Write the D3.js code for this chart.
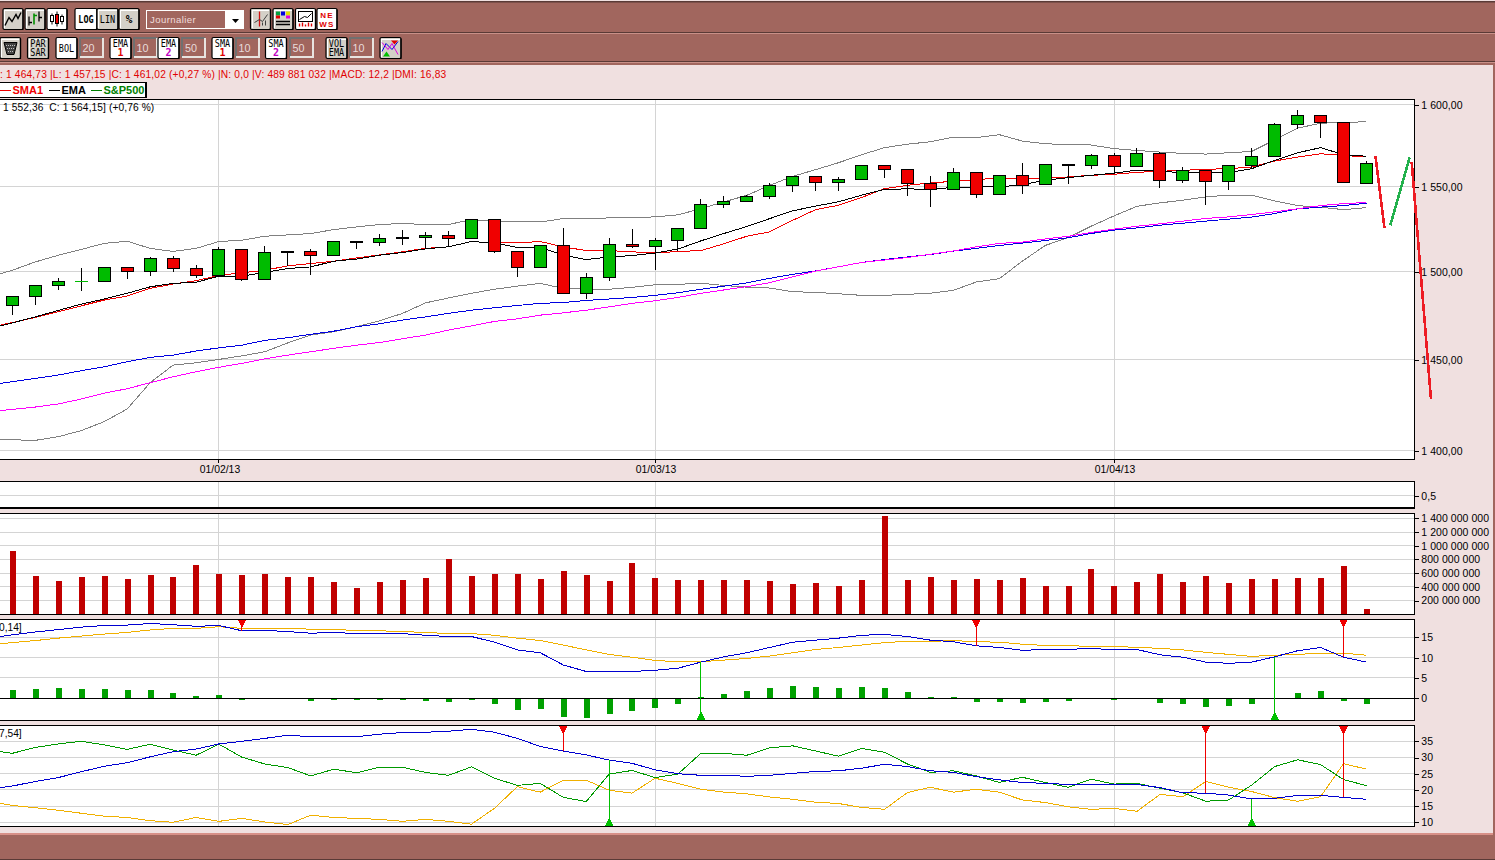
<!DOCTYPE html>
<html>
<head>
<meta charset="utf-8">
<title>S&amp;P500</title>
<script src="https://cdn.jsdelivr.net/npm/d3@7"></script>
<style>
  html, body { margin: 0; padding: 0; background: #f0e0e0; overflow: hidden; }
  svg { display: block; }
  text { font-family: "Liberation Sans", Arial, sans-serif; }
  .aliased { shape-rendering: crispEdges; }
  .axis text { font-size: 10.5px; fill: #000; letter-spacing: 0.05px; }
  .axis path { display: none; }
  .axis line { stroke: #000; shape-rendering: crispEdges; }
</style>
</head>
<body>
<svg id="chart" width="1495" height="860"></svg>
<script>
// session data, candle 0 is the first one on screen
const opens = [1480.7,1485.9,1492.2,1494.6,1494.6,1502.6,1500.0,1507.8,1502.0,1497.8,1513.1,1495.5,1511.9,1511.9,1509.3,1517.9,1516.9,1520.0,1519.8,1521.2,1519.2,1530.6,1511.9,1502.6,1515.4,1487.6,1496.9,1516.0,1514.8,1518.3,1525.3,1539.5,1541.3,1544.2,1550.8,1556.2,1552.6,1554.4,1562.8,1560.4,1552.0,1548.4,1558.6,1545.4,1556.8,1551.4,1563.6,1562.8,1568.8,1562.2,1570.0,1553.8,1559.8,1553.2,1562.8,1568.2,1587.7,1593.2,1588.9,1552.36];
const highs = [1485.9,1492.2,1496.6,1502.2,1503.1,1503.1,1508.9,1509.4,1504.3,1514.4,1513.1,1515.0,1512.3,1513.1,1518.3,1518.3,1522.4,1524.7,1523.0,1524.1,1530.6,1530.6,1511.9,1515.4,1525.9,1499.3,1520.0,1525.3,1520.0,1525.3,1543.1,1544.8,1545.4,1552.6,1556.4,1556.8,1556.2,1563.4,1563.4,1560.4,1556.8,1561.6,1558.6,1557.4,1564.6,1564.0,1564.0,1570.0,1570.6,1573.7,1571.2,1562.2,1559.8,1562.8,1573.7,1588.9,1596.9,1593.2,1588.9,1565.8];
const lows = [1475.2,1481.1,1489.5,1489.0,1494.6,1495.9,1497.8,1500.0,1496.6,1497.8,1494.9,1495.5,1503.5,1498.4,1509.3,1513.4,1515.2,1515.8,1513.7,1514.6,1519.2,1511.0,1497.2,1502.6,1487.6,1484.4,1494.7,1514.2,1501.0,1511.9,1525.3,1537.7,1541.3,1543.0,1547.0,1547.6,1547.6,1554.4,1555.4,1544.6,1538.1,1548.4,1543.4,1545.4,1545.8,1551.4,1551.8,1560.7,1558.0,1562.2,1549.4,1552.6,1539.5,1548.2,1561.0,1568.2,1585.2,1579.5,1552.5,1552.36];
const closes = [1485.9,1492.2,1494.6,1494.6,1502.6,1500.0,1507.8,1502.0,1497.8,1513.1,1495.5,1511.3,1511.0,1509.3,1517.7,1517.2,1519.5,1519.5,1521.2,1519.2,1530.6,1511.7,1502.6,1515.4,1487.6,1496.9,1516.0,1514.8,1518.3,1525.3,1539.5,1541.3,1544.2,1550.8,1556.2,1552.6,1554.4,1562.8,1560.4,1552.0,1548.4,1558.6,1545.4,1556.8,1551.0,1563.4,1562.6,1568.8,1562.2,1570.0,1553.8,1559.8,1553.2,1562.8,1568.2,1587.7,1593.2,1588.9,1552.5,1564.15];

// overlays, first value belongs to the session just left of the screen
const bollUpper = [1497.2,1501.0,1505.8,1509.7,1513.1,1516.6,1517.9,1513.7,1511.9,1513.7,1517.7,1518.5,1520.8,1521.6,1522.4,1524.7,1526.3,1527.7,1528.3,1527.7,1527.7,1530.6,1529.8,1529.2,1529.2,1531.2,1531.2,1531.6,1531.8,1532.2,1533.4,1537.1,1541.1,1545.0,1551.0,1556.4,1560.4,1564.6,1569.4,1573.7,1575.8,1577.3,1580.1,1579.8,1581.6,1577.7,1576.1,1575.5,1575.3,1573.1,1572.0,1571.0,1570.2,1569.8,1570.6,1571.4,1578.4,1585.6,1588.6,1589.1,1589.5];
const bollLower = [1405.9,1405.9,1405.6,1407.6,1410.9,1415.8,1422.7,1437.2,1447.0,1448.3,1450.2,1452.2,1454.5,1459.5,1463.9,1465.8,1468.6,1472.0,1476.2,1482.2,1485.0,1487.7,1490.0,1491.8,1493.4,1490.5,1490.0,1490.0,1491.1,1492.6,1492.8,1493.5,1492.2,1491.2,1490.7,1488.6,1488.2,1487.4,1486.5,1486.5,1487.1,1487.7,1489.4,1494.2,1496.1,1506.2,1515.4,1520.0,1526.7,1532.8,1538.5,1540.5,1542.1,1544.1,1545.1,1545.1,1541.7,1538.9,1537.9,1536.5,1537.7];
const ema2 = [1435.9,1437.8,1439.6,1441.5,1443.9,1446.1,1448.9,1451.3,1452.6,1454.9,1456.7,1458.2,1460.9,1462.4,1464.3,1466.1,1468.6,1470.3,1472.4,1474.2,1476.2,1478.0,1479.4,1480.7,1481.9,1482.4,1483.6,1484.4,1485.3,1486.5,1488.0,1490.0,1491.8,1493.7,1496.3,1498.6,1500.6,1503.0,1505.5,1507.2,1508.7,1510.1,1512.1,1513.7,1515.4,1516.8,1518.3,1519.9,1522.4,1524.4,1525.7,1527.3,1528.5,1529.7,1530.9,1532.1,1534.2,1536.9,1538.0,1538.9,1540.3];
const sma2 = [1421.2,1422.5,1423.8,1425.5,1428.2,1431.4,1433.9,1437.2,1440.5,1443.3,1445.8,1448.0,1450.5,1452.6,1454.5,1456.4,1458.2,1459.7,1461.8,1463.9,1466.7,1469.1,1471.6,1473.1,1475.2,1476.5,1478.0,1479.9,1481.9,1483.4,1485.3,1487.7,1489.6,1491.5,1493.8,1497.2,1500.5,1503.0,1505.5,1506.9,1508.4,1510.3,1512.2,1514.6,1516.6,1517.4,1519.2,1520.8,1523.0,1525.0,1526.7,1528.1,1529.7,1531.3,1532.2,1533.6,1535.2,1537.0,1538.9,1540.1,1540.7];
const sma1 = [1468.2,1471.0,1473.9,1477.1,1480.5,1483.8,1486.1,1490.5,1493.0,1494.9,1498.0,1499.5,1501.0,1503.5,1504.9,1506.2,1508.1,1509.9,1511.7,1513.7,1514.6,1517.7,1516.9,1516.9,1517.7,1514.6,1512.4,1512.4,1511.7,1511.0,1511.9,1512.4,1516.4,1520.8,1523.4,1530.2,1536.5,1539.1,1543.7,1549.0,1551.0,1552.4,1553.4,1554.4,1555.4,1555.0,1555.4,1556.0,1557.0,1557.6,1558.8,1559.4,1560.0,1560.6,1561.0,1562.0,1565.6,1568.0,1570.0,1569.0,1568.0];
const ema1 = [1467.5,1470.8,1474.2,1477.9,1481.5,1484.4,1487.7,1491.4,1493.4,1494.0,1497.6,1497.6,1499.7,1502.0,1502.9,1506.2,1507.5,1509.7,1511.3,1513.4,1514.6,1517.7,1516.9,1514.2,1514.4,1509.7,1507.2,1508.7,1509.5,1511.0,1513.3,1518.1,1522.4,1526.5,1531.2,1535.8,1538.6,1541.2,1545.1,1548.5,1548.9,1548.5,1549.8,1550.0,1550.0,1551.4,1554.0,1555.6,1557.0,1558.3,1560.1,1559.4,1558.6,1558.6,1558.6,1561.0,1566.0,1570.6,1573.7,1569.4,1568.5];

const volumes = [923,558,485,545,558,515,573,545,719,588,573,588,545,540,470,384,470,500,530,806,558,588,588,515,631,573,485,748,530,500,500,500,500,485,442,456,412,500,1433,500,545,500,515,500,530,412,412,661,412,470,588,470,558,456,515,515,530,530,704,77].map(d => d * 1e6);

const macdLine = [14.8,15.6,16.3,16.9,17.5,17.9,18.0,18.4,18.1,17.7,17.9,16.6,16.7,16.4,16.0,16.2,15.9,15.9,15.9,15.5,15.2,15.2,13.8,11.9,11.2,8.2,6.6,6.6,6.6,6.9,7.4,8.9,10.2,11.2,12.5,13.8,14.3,14.8,15.5,15.7,15.2,14.3,13.9,12.9,12.5,11.8,12.0,12.0,12.3,11.9,12.0,10.7,10.1,8.9,8.6,8.9,10.2,11.7,12.5,10.1,8.9];
const macdSignal = [13.1,13.7,14.2,14.8,15.3,15.8,16.2,16.8,17.2,17.2,17.6,17.2,17.2,17.2,17.0,17.0,16.6,16.6,16.4,16.2,15.9,15.9,15.5,14.8,14.2,13.1,11.9,10.8,10.1,9.3,9.0,9.0,9.4,9.8,10.4,11.2,12.0,12.5,13.1,13.7,14.0,14.0,14.2,13.9,13.8,13.3,13.0,13.0,12.7,12.8,12.5,12.3,11.9,11.3,10.8,10.3,10.6,10.8,11.1,11.1,10.6];
const macdHist = [2.0,2.3,2.5,2.3,2.3,2.0,2.0,1.3,0.6,0.8,-0.3,0,0,-0.6,-0.3,-0.3,-0.3,-0.3,-0.6,-0.9,-0.3,-1.4,-2.9,-2.6,-4.6,-4.8,-3.9,-3.1,-2.4,-1.4,0.3,1.1,1.8,2.5,3.0,2.8,2.5,2.8,2.5,1.6,0.3,0.3,-0.9,-0.9,-1.1,-0.9,-0.6,0,-0.3,0,-1.1,-1.4,-2.1,-1.9,-1.4,0,1.2,1.8,-0.6,-1.4];

const adxLine = [20.2,21.2,22.6,23.8,25.6,27.3,28.4,30.2,31.8,32.6,34.2,35.0,35.9,36.9,36.4,36.4,36.4,37.2,37.7,37.8,38.1,38.7,37.8,35.9,33.4,32.0,30.8,29.2,28.2,26.2,25.0,24.5,24.5,24.2,24.5,25.1,25.7,25.9,26.7,27.9,27.2,25.9,25.4,24.1,23.1,22.3,22.0,21.7,21.7,21.7,21.7,20.7,19.1,19.0,18.4,17.2,17.4,18.3,18.3,17.7,17.1];
const diPlus = [32.3,31.3,33.1,34.2,35.0,33.9,32.5,34.1,32.3,30.7,34.1,30.1,28.0,26.9,24.3,26.4,25.3,27.0,27.0,25.4,24.5,27.1,23.6,21.4,22.0,17.7,16.4,24.9,26.0,23.8,24.9,31.3,31.3,30.7,33.0,33.6,32.0,30.4,32.8,31.6,28.0,25.4,25.9,24.3,22.3,23.9,22.3,20.8,23.3,21.8,22.0,20.5,19.1,16.5,16.9,21.5,27.2,29.3,27.8,23.2,21.3];
const diMinus = [16.4,15.2,14.5,13.7,12.8,11.9,11.5,10.5,10.0,11.5,10.3,11.2,10.1,9.3,12.2,11.5,11.2,10.9,10.3,10.9,10.3,9.4,14.3,21.0,19.3,23.0,23.0,19.9,19.0,23.6,22.0,20.2,19.3,18.8,17.8,17.1,16.2,15.8,14.6,14.0,19.2,20.8,19.3,20.2,19.3,16.9,16.1,14.8,14.0,14.3,13.4,18.6,17.9,22.6,20.8,19.5,17.6,16.5,17.9,28.1,26.4];

// crossover signals: session index, direction
const macdSignals = [[10, "sell"], [30, "buy"], [42, "sell"], [55, "buy"], [58, "sell"]];
const dmiSignals = [[24, "sell"], [26, "buy"], [52, "sell"], [54, "buy"], [58, "sell"]];

const monthTicks = [[9, "01/02/13"], [28, "01/03/13"], [48, "01/04/13"]];
const priceTicks = [1400, 1450, 1500, 1550, 1600];
const volumeTicks = [200, 400, 600, 800, 1000, 1200, 1400].map(d => d * 1e6);
const macdTicks = [0, 5, 10, 15];
const dmiTicks = [10, 15, 20, 25, 30, 35];

// hand drawn forecast strokes on top of the chart (session index, price)
const strokeDown1 = [[59.39, 1568.5], [59.78, 1525.7]];
const strokeUp = [[60.04, 1527.3], [60.88, 1567.7]];
const strokeDown2 = [[60.97, 1564.8], [61.81, 1428.0]];

const BROWN = "#a1665e";
const PINK = "#f0e0e0";
const GRID = "#d4d4d4";
const RIGHT = 1414.3;

const svg = d3.select("#chart");
const frLocale = d3.formatLocale({ decimal: ",", thousands: " ", grouping: [3], currency: ["", ""] });

const x = d3.scaleLinear().domain([0, 59]).range([12.4, 1366.5]);
const lineIdx = d3.range(-1, 60);

svg.append("rect").attr("width", 1495).attr("height", 860).attr("fill", PINK);

const addPanel = (id, top, bottom) => {
    const defs = svg.append("clipPath").attr("id", id);
    defs.append("rect").attr("x", 0).attr("y", top).attr("width", RIGHT).attr("height", bottom - top);
    svg.append("rect").attr("x", -2).attr("y", top).attr("width", RIGHT + 2).attr("height", bottom - top).attr("fill", "#fff");
    const g = svg.append("g").attr("clip-path", `url(#${id})`);
    // vertical month lines
    g.selectAll("line.month").data(monthTicks).enter().append("line")
        .attr("class", "month aliased")
        .attr("x1", d => x(d[0])).attr("x2", d => x(d[0]))
        .attr("y1", top).attr("y2", bottom)
        .attr("stroke", GRID);
    return g;
};

const addGrid = (g, y, ticks) => {
    g.selectAll("line.hgrid").data(ticks).enter().append("line")
        .attr("class", "hgrid aliased")
        .attr("x1", 0).attr("x2", RIGHT)
        .attr("y1", d => y(d)).attr("y2", d => y(d))
        .attr("stroke", GRID);
};

const addAxis = (y, ticks, fmt) => {
    svg.append("g").attr("class", "axis")
        .attr("transform", `translate(${RIGHT},0)`)
        .call(d3.axisRight(y).tickValues(ticks).tickSize(5).tickPadding(2).tickFormat(fmt));
};

const addFrame = (top, bottom) => {
    svg.append("rect").attr("class", "aliased")
        .attr("x", -2).attr("y", top).attr("width", RIGHT + 2).attr("height", bottom - top)
        .attr("fill", "none").attr("stroke", "#000").attr("stroke-width", 1.5);
};

const drawLine = (g, values, y, color, width) => {
    const line = d3.line().x((d, i) => x(lineIdx[i])).y(d => y(d));
    g.append("path").datum(values).attr("class", "aliased")
        .attr("d", line).attr("fill", "none").attr("stroke", color).attr("stroke-width", width);
};

// ---- price panel
const priceTop = 99.7, priceBottom = 459.3;
const yPrice = d3.scaleLog().domain([1400, 1600]).range([450.7, 104.7]);
const gPrice = addPanel("clipPrice", priceTop, priceBottom);
addGrid(gPrice, yPrice, priceTicks);
drawLine(gPrice, bollUpper, yPrice, "#808080", 1);
drawLine(gPrice, bollLower, yPrice, "#808080", 1);
drawLine(gPrice, ema2, yPrice, "#0000e0", 1);
drawLine(gPrice, sma2, yPrice, "#ff00ff", 1);
drawLine(gPrice, sma1, yPrice, "#f00000", 1);
drawLine(gPrice, ema1, yPrice, "#000", 1);

const candles = opens.map((o, i) => ({ i, o, h: highs[i], l: lows[i], c: closes[i] }));
const candleG = gPrice.selectAll("g.candle").data(candles).enter().append("g").attr("class", "candle aliased");
candleG.append("line")
    .attr("x1", d => x(d.i)).attr("x2", d => x(d.i))
    .attr("y1", d => yPrice(d.h)).attr("y2", d => yPrice(d.l))
    .attr("stroke", "#000").attr("stroke-width", 1);
// open == close has no body, a zero height rect would not paint at all
candleG.append("rect")
    .attr("x", d => x(d.i) - 6)
    .attr("width", 12)
    .attr("y", d => yPrice(Math.max(d.o, d.c)))
    .attr("height", d => Math.max(Math.abs(yPrice(d.o) - yPrice(d.c)), 0.01))
    .attr("fill", d => d.c >= d.o ? "#00bb00" : "#f00000")
    .attr("stroke", d => d.o === d.c ? "#00bb00" : "#000")
    .attr("stroke-width", 1);

gPrice.append("text").attr("x", 3).attr("y", 111).attr("font-size", 10.2).attr("letter-spacing", 0.1).attr("fill", "#000")
    .text("1 552,36  C: 1 564,15] (+0,76 %)").style("white-space", "pre");

addFrame(priceTop, priceBottom);
addAxis(yPrice, priceTicks, frLocale.format(",.2f"));

// month labels under the price panel
svg.selectAll("line.mtick").data(monthTicks).enter().append("line")
    .attr("class", "mtick aliased")
    .attr("x1", d => x(d[0])).attr("x2", d => x(d[0]))
    .attr("y1", priceBottom).attr("y2", priceBottom + 4).attr("stroke", "#000");
svg.selectAll("text.mlabel").data(monthTicks).enter().append("text")
    .attr("class", "mlabel")
    .attr("x", d => x(d[0]) + 1).attr("y", 473)
    .attr("text-anchor", "middle").attr("font-size", 10.4).attr("fill", "#000")
    .text(d => d[1]);

// ---- empty panel
const yEmpty = d3.scaleLinear().domain([0, 1]).range([509.7, 481.7]);
const gEmpty = addPanel("clipEmpty", 481.7, 508);
addGrid(gEmpty, yEmpty, [0.5]);
addFrame(481.7, 508);
addAxis(yEmpty, [0.5], frLocale.format(".1f"));

// ---- volume panel
const yVol = d3.scaleLinear().domain([0, 1.4e9]).range([614.3, 518.3]);
const gVol = addPanel("clipVol", 513.3, 614.3);
addGrid(gVol, yVol, volumeTicks);
gVol.selectAll("rect.vol").data(volumes).enter().append("rect")
    .attr("class", "vol aliased")
    .attr("x", (d, i) => x(i) - 2.6).attr("width", 6)
    .attr("y", d => yVol(d)).attr("height", d => yVol(0) - yVol(d))
    .attr("fill", "#c00000");
addFrame(513.3, 614.3);
addAxis(yVol, volumeTicks, frLocale.format(",d"));

// ---- MACD panel
const macdTop = 619.3, macdBottom = 720.3;
const yMacd = d3.scaleLinear().domain([0, 15]).range([698.3, 637.3]);
const gMacd = addPanel("clipMacd", macdTop, macdBottom);
addGrid(gMacd, yMacd, macdTicks.filter(d => d !== 0));
gMacd.selectAll("rect.hist").data(macdHist).enter().append("rect")
    .attr("class", "hist aliased")
    .attr("x", (d, i) => x(i) - 2.6).attr("width", 6)
    .attr("y", d => d > 0 ? yMacd(d) : yMacd(0))
    .attr("height", d => Math.abs(yMacd(d) - yMacd(0)))
    .attr("fill", "#00a000");
gMacd.append("line").attr("class", "aliased")
    .attr("x1", 0).attr("x2", RIGHT).attr("y1", yMacd(0)).attr("y2", yMacd(0))
    .attr("stroke", "#000").attr("stroke-width", 1);
drawLine(gMacd, macdSignal, yMacd, "#f0b000", 1);
drawLine(gMacd, macdLine, yMacd, "#0000d0", 1);

const drawSignals = (g, signals, series, y, top, bottom) => {
    signals.forEach(([idx, dir]) => {
        const color = dir === "sell" ? "#f00000" : "#00c000";
        const px = x(idx);
        const py = y(series[idx + 1]);
        g.append("line").attr("class", "aliased")
            .attr("x1", px).attr("x2", px)
            .attr("y1", dir === "sell" ? top : bottom).attr("y2", py)
            .attr("stroke", color).attr("stroke-width", 1);
        const tri = dir === "sell"
            ? [[px - 4.5, top], [px + 4.5, top], [px, top + 9]]
            : [[px - 4.5, bottom], [px + 4.5, bottom], [px, bottom - 9]];
        g.append("path").attr("class", "aliased")
            .attr("d", d3.line()(tri) + "Z").attr("fill", color);
    });
};
drawSignals(gMacd, macdSignals, macdLine, yMacd, macdTop, macdBottom);
gMacd.append("text").attr("x", -1).attr("y", 631).attr("font-size", 10.2).attr("fill", "#000").text("0,14]");
addFrame(macdTop, macdBottom);
addAxis(yMacd, macdTicks, d3.format("d"));

// ---- DMI panel
const dmiTop = 725.7, dmiBottom = 826.3;
const yDmi = d3.scaleLinear().domain([10, 35]).range([822.3, 741.3]);
const gDmi = addPanel("clipDmi", dmiTop, dmiBottom);
addGrid(gDmi, yDmi, dmiTicks);
drawLine(gDmi, diMinus, yDmi, "#f0b000", 1);
drawLine(gDmi, diPlus, yDmi, "#009900", 1);
drawLine(gDmi, adxLine, yDmi, "#0000d0", 1);
drawSignals(gDmi, dmiSignals, adxLine, yDmi, dmiTop, dmiBottom);
gDmi.append("text").attr("x", -1).attr("y", 737).attr("font-size", 10.2).attr("fill", "#000").text("7,54]");
addFrame(dmiTop, dmiBottom);
addAxis(yDmi, dmiTicks, d3.format("d"));

// ---- forecast strokes, drawn over frame and axis
const strokeLine = d3.line().x(d => x(d[0])).y(d => yPrice(d[1]));
[[strokeDown1, "#ed1c24"], [strokeUp, "#22b14c"], [strokeDown2, "#ed1c24"]].forEach(([pts, color]) => {
    svg.append("path").datum(pts).attr("class", "aliased")
        .attr("d", strokeLine).attr("fill", "none").attr("stroke", color).attr("stroke-width", 2.6);
});

// ---- window chrome
const chrome = svg.append("g");
chrome.append("rect").attr("width", 1495).attr("height", 65).attr("fill", BROWN);
chrome.append("rect").attr("y", 0).attr("width", 1495).attr("height", 1).attr("fill", "#f0e0e0");
chrome.append("rect").attr("y", 1).attr("width", 1495).attr("height", 1.5).attr("fill", "#5a3a36");
chrome.append("rect").attr("y", 32).attr("width", 1495).attr("height", 1).attr("fill", "#5a3a36");
chrome.append("rect").attr("y", 33).attr("width", 1495).attr("height", 1).attr("fill", "#c89088");
chrome.append("rect").attr("y", 61).attr("width", 1495).attr("height", 1).attr("fill", "#5a3a36");
chrome.append("rect").attr("y", 62).attr("width", 1495).attr("height", 1).attr("fill", "#c89088");
chrome.append("rect").attr("y", 63).attr("width", 1495).attr("height", 2).attr("fill", BROWN);
chrome.append("rect").attr("y", 833).attr("width", 1495).attr("height", 2).attr("fill", "#d89088");
chrome.append("rect").attr("y", 835).attr("width", 1495).attr("height", 24).attr("fill", BROWN);
chrome.append("rect").attr("y", 859).attr("width", 1495).attr("height", 1).attr("fill", "#5a3a36");
chrome.append("rect").attr("x", 1493).attr("y", 65).attr("width", 2).attr("height", 770).attr("fill", BROWN);

const button = (bx, by, w, h, fill) => {
    const b = chrome.append("g").attr("transform", `translate(${bx},${by})`);
    b.append("rect").attr("width", w).attr("height", h).attr("rx", 1.5).attr("fill", fill).attr("stroke", "#000").attr("stroke-width", 1.2);
    b.append("path").attr("d", `M1,${h}H${w}V1`).attr("fill", "none").attr("stroke", "#000").attr("stroke-width", 1.2);
    b.append("path").attr("d", `M1.5,${h - 1.5}V1.5H${w - 1.5}`).attr("fill", "none").attr("stroke", "#fff").attr("stroke-width", 1).attr("class", "aliased");
    return b;
};
const label = (b, tx, ty, str, color, size, bold) => {
    const t = b.append("text").attr("x", tx).attr("y", ty).attr("text-anchor", "middle")
        .style("font-family", "'DejaVu Sans Mono', monospace")
        .attr("font-size", size || 10).attr("fill", color || "#000").text(str);
    if (str.length > 1) t.attr("textLength", str.length * 5.1).attr("lengthAdjust", "spacingAndGlyphs");
    if (bold) t.attr("font-weight", "bold");
};
const GREY = "#d4d0c8";

// row 1
const lineBtn = button(3, 8.5, 20, 21, GREY);
lineBtn.append("path").attr("d", "M2,17L6,9L9,13L13,6L15,10L18,4").attr("fill", "none").attr("stroke", "#000").attr("stroke-width", 1.4);
const barBtn = button(25, 8.5, 20, 21, GREY);
barBtn.append("path").attr("d", "M4,8V17M4,14H7M14,3V13M14,9H17").attr("fill", "none").attr("stroke", "#000").attr("stroke-width", 1.3);
barBtn.append("path").attr("d", "M9,5V16M9,7H12").attr("fill", "none").attr("stroke", "#009000").attr("stroke-width", 1.6);
const candleBtn = button(47, 8.5, 20, 21, "#fff");
candleBtn.append("path").attr("d", "M5,5V16M10,3V18M15,6V16").attr("stroke", "#000").attr("fill", "none");
candleBtn.append("rect").attr("x", 3.5).attr("y", 7).attr("width", 3).attr("height", 6).attr("fill", "#fff").attr("stroke", "#000");
candleBtn.append("rect").attr("x", 8.5).attr("y", 6).attr("width", 3).attr("height", 9).attr("fill", "#f00000").attr("stroke", "#000");
candleBtn.append("rect").attr("x", 13.5).attr("y", 8).attr("width", 3).attr("height", 5).attr("fill", "#fff").attr("stroke", "#000");
label(button(75, 8.5, 22, 21, "#fff"), 11, 14, "LOG", "#000", 10, true);
label(button(97, 8.5, 21, 21, GREY), 10.5, 14, "LIN");
label(button(119, 8.5, 20, 21, GREY), 10, 14.5, "%", "#000", 11, true);

chrome.append("rect").attr("x", 146.5).attr("y", 10.5).attr("width", 97).attr("height", 18)
    .attr("fill", BROWN).attr("stroke", "#fff").attr("stroke-width", 1.5).attr("class", "aliased");
chrome.append("rect").attr("x", 225).attr("y", 11).attr("width", 18).attr("height", 17).attr("fill", "#fff");
chrome.append("path").attr("d", "M232,19h7l-3.5,4z").attr("fill", "#000");
chrome.append("text").attr("x", 150).attr("y", 23).attr("font-size", 9.6).attr("letter-spacing", 0.4).attr("fill", "#f0dcdc").text("Journalier");

const chartBtn = button(250.5, 8.5, 20, 21, GREY);
chartBtn.append("path").attr("d", "M9,3V18").attr("stroke", "#d01010").attr("stroke-width", 1.3);
chartBtn.append("path").attr("d", "M4,14L9,11L12,13L17,6M12,17V14M15,17V12").attr("stroke", "#404040").attr("fill", "none");
const colorBtn = button(273, 8.5, 20, 21, GREY);
colorBtn.append("rect").attr("x", 3).attr("y", 3).attr("width", 4).attr("height", 4).attr("fill", "#00a040");
colorBtn.append("rect").attr("x", 8).attr("y", 3).attr("width", 4).attr("height", 4).attr("fill", "#0000e0");
colorBtn.append("rect").attr("x", 13).attr("y", 3).attr("width", 4).attr("height", 4).attr("fill", "#e0e000");
colorBtn.append("rect").attr("x", 3).attr("y", 7).attr("width", 4).attr("height", 3).attr("fill", "#e00000");
colorBtn.append("rect").attr("x", 13).attr("y", 7).attr("width", 4).attr("height", 3).attr("fill", "#e000e0");
colorBtn.append("path").attr("d", "M3,13H17M3,16H17").attr("stroke", "#000").attr("stroke-width", 1.4);
const volBtn = button(295.5, 8.5, 20, 21, "#fff");
volBtn.append("rect").attr("x", 3).attr("y", 3).attr("width", 14).attr("height", 10).attr("fill", "#fff").attr("stroke", "#000");
volBtn.append("path").attr("d", "M4,11L9,8L12,9L16,5").attr("stroke", "#000").attr("fill", "none");
volBtn.append("path").attr("d", "M4,18V15M7,18V14M10,18V16M13,18V14M16,18V15").attr("stroke", "#e00000").attr("stroke-width", 1.4);
const newsBtn = button(317, 8.5, 20, 21, "#fff");
newsBtn.append("text").attr("x", 10).attr("y", 9).attr("text-anchor", "middle").attr("font-size", 8).attr("font-weight", "bold").attr("letter-spacing", 1.2).attr("fill", "#e00000").text("NE");
newsBtn.append("text").attr("x", 10).attr("y", 18).attr("text-anchor", "middle").attr("font-size", 8).attr("font-weight", "bold").attr("letter-spacing", 1.2).attr("fill", "#e00000").text("WS");

// row 2
const trash = button(0, 37.5, 20.5, 21, GREY);
trash.append("path").attr("d", "M4,5H17L14,17H7Z").attr("fill", "#404040").attr("stroke", "#000");
trash.append("path").attr("d", "M6,8h9M7,11h7M8,14h5").attr("stroke", "#c0c0c0").attr("stroke-dasharray", "1 1");
const twoLine = (b, l1, l2, c1, c2) => {
    label(b, 10.5, 9, l1, c1, 10);
    label(b, 10.5, 18.5, l2, c2, 10, c2 ? true : false);
};
const inputBox = (bx, val) => {
    chrome.append("path").attr("class", "aliased").attr("d", `M${bx},57V38H${bx + 23}`).attr("fill", "none").attr("stroke", "#707070").attr("stroke-width", 2);
    chrome.append("path").attr("class", "aliased").attr("d", `M${bx},57H${bx + 23}V38`).attr("fill", "none").attr("stroke", "#e8e4e0").attr("stroke-width", 2);
    chrome.append("text").attr("x", bx + 9).attr("y", 51.5).attr("text-anchor", "middle")
        .attr("font-size", 10.8).attr("fill", "#e8dcdc").text(val);
};
twoLine(button(27.5, 37.5, 21, 21, GREY), "PAR", "SAR");
label(button(56, 37.5, 21, 21, "#fff"), 10.5, 14, "BOL", "#000", 10);
inputBox(79.5, "20");
twoLine(button(110, 37.5, 21, 21, "#fff"), "EMA", "1", "#000", "#e00000");
inputBox(133.5, "10");
twoLine(button(158, 37.5, 21, 21, "#fff"), "EMA", "2", "#000", "#c000c0");
inputBox(182, "50");
twoLine(button(212, 37.5, 21, 21, "#fff"), "SMA", "1", "#000", "#e00000");
inputBox(235.5, "10");
twoLine(button(265.5, 37.5, 21, 21, "#fff"), "SMA", "2", "#000", "#c000c0");
inputBox(289.5, "50");
twoLine(button(326, 37.5, 21, 21, GREY), "VOL", "EMA");
inputBox(349.5, "10");
const sigBtn = button(380, 37.5, 21, 21, GREY);
sigBtn.append("path").attr("d", "M2,14L6,6L12,12L18,4").attr("fill", "none").attr("stroke", "#0000e0");
sigBtn.append("path").attr("d", "M2,5L8,12L12,6L18,17").attr("fill", "none").attr("stroke", "#e000e0");
sigBtn.append("path").attr("d", "M11,3h7l-3.5,4z").attr("fill", "#e00000");
sigBtn.append("path").attr("d", "M3,19h7l-3.5,-5z").attr("fill", "#00c000");

// info line and legend
chrome.append("text").attr("x", 0).attr("y", 78).attr("font-size", 10.2).attr("letter-spacing", 0.17).attr("fill", "#e00000")
    .text(": 1 464,73 |L: 1 457,15 |C: 1 461,02 (+0,27 %) |N: 0,0 |V: 489 881 032 |MACD: 12,2 |DMI: 16,83");
chrome.append("rect").attr("class", "aliased").attr("x", -2).attr("y", 82.5).attr("width", 148).attr("height", 15)
    .attr("fill", "#fff").attr("stroke", "#000").attr("stroke-width", 1.2);
const legendItems = [[0, 12.5, "SMA1", "#f00000"], [49, 61.5, "EMA", "#000"], [91, 103.5, "S&P500", "#008000"]];
legendItems.forEach(([lx, tx, name, color]) => {
    chrome.append("line").attr("class", "aliased").attr("x1", lx).attr("x2", lx + 11).attr("y1", 90).attr("y2", 90).attr("stroke", color);
    chrome.append("text").attr("x", tx).attr("y", 94).attr("font-size", 11).attr("font-weight", "bold").attr("fill", color).text(name);
});
</script>
</body>
</html>
